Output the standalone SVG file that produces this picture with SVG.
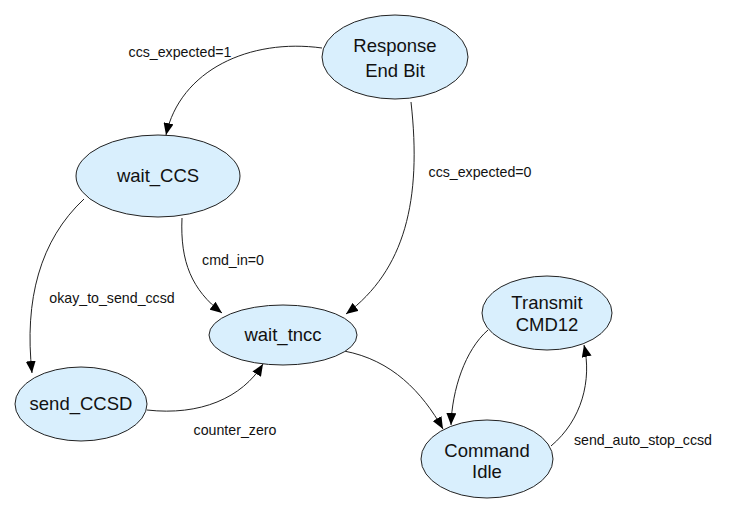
<svg xmlns="http://www.w3.org/2000/svg" width="733" height="509" viewBox="0 0 733 509">
<style>
.node ellipse{fill:#d9effd;stroke:#222;stroke-width:1}
.node text{font-family:"Liberation Sans",Arial,sans-serif;font-size:18.5px;fill:#111;text-anchor:middle}
.edges path{fill:none;stroke:#222;stroke-width:1;marker-end:url(#arr)}
.lbl{font-family:"Liberation Sans",Arial,sans-serif;font-size:14.2px;fill:#111;text-anchor:middle}
</style>
<defs>
<marker id="arr" markerUnits="userSpaceOnUse" markerWidth="12" markerHeight="10" refX="12" refY="5" orient="auto">
<path d="M0,0 L12,5 L0,10 z" fill="#000"/>
</marker>
</defs>
<rect width="733" height="509" fill="#fff"/>
<g class="edges">
<path d="M 322,48 C 250,38 180,70 166,135"/>
<path d="M 411,102 C 422,200 405,270 346,314"/>
<path d="M 182,218 C 180,262 192,290 222,313"/>
<path d="M 84,199 C 40,240 24,300 32,373"/>
<path d="M 147,410 C 200,416 242,398 263,364"/>
<path d="M 344,351 C 392,360 422,392 443,429"/>
<path d="M 488,330 C 465,350 452,390 451,425"/>
<path d="M 551,446 C 582,420 592,380 584,345"/>
</g>
<g class="labels">
<text class="lbl" x="180" y="57">ccs_expected=1</text>
<text class="lbl" x="480" y="177">ccs_expected=0</text>
<text class="lbl" x="233" y="265">cmd_in=0</text>
<text class="lbl" x="112" y="303">okay_to_send_ccsd</text>
<text class="lbl" x="235" y="435">counter_zero</text>
<text class="lbl" x="643" y="445">send_auto_stop_ccsd</text>
</g>
<g id="response_end_bit" class="node"><ellipse cx="395" cy="57" rx="73" ry="42"/><text x="395" y="52">Response</text><text x="395" y="77">End Bit</text></g>
<g id="wait_ccs" class="node"><ellipse cx="158" cy="176" rx="82" ry="41"/><text x="158" y="182">wait_CCS</text></g>
<g id="wait_tncc" class="node"><ellipse cx="283" cy="335" rx="74" ry="30"/><text x="283" y="341">wait_tncc</text></g>
<g id="send_ccsd" class="node"><ellipse cx="81" cy="404" rx="66" ry="37"/><text x="81" y="410">send_CCSD</text></g>
<g id="transmit_cmd12" class="node"><ellipse cx="547" cy="313" rx="65" ry="37"/><text x="547" y="309">Transmit</text><text x="547" y="331">CMD12</text></g>
<g id="command_idle" class="node"><ellipse cx="487" cy="459" rx="66" ry="39"/><text x="487" y="457">Command</text><text x="487" y="478">Idle</text></g>
</svg>
